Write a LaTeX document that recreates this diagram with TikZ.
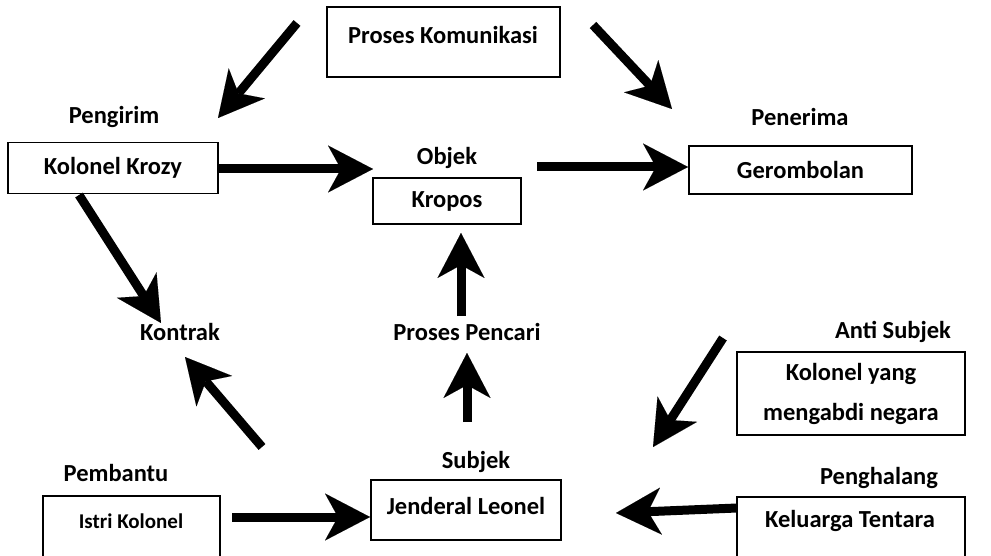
\documentclass[tikz,border=0pt]{standalone}
\usepackage{fontspec}
\setmainfont{Carlito}
\usetikzlibrary{arrows.meta}
\begin{document}
\begin{tikzpicture}[x=1pt,y=-1pt,
  txt/.style={inner sep=0pt, font=\bfseries\fontsize{24.5}{40}\selectfont, align=center},
  smalltxt/.style={inner sep=0pt, font=\bfseries\fontsize{21}{26}\selectfont},
  box/.style={draw, line width=1.6pt, inner sep=0pt},
  big/.style={line width=9pt, -{Stealth[length=45pt,width=47pt,inset=13pt,line width=0.01pt]}}]
\clip (0,0) rectangle (991,556);
\fill[white] (0,0) rectangle (991,556);
% boxes
\node[box, minimum width=233pt, minimum height=70pt] (pk) at (443.5,42) {};
\node[txt] (pkt) at (443,35) {Proses Komunikasi};
\node[box, txt, minimum width=210pt, minimum height=51pt] (kk) at (113,168) {Kolonel Krozy};
\node[box, txt, minimum width=148pt, minimum height=46pt] (kr) at (447,201) {Kropos};
\node[box, txt, minimum width=223pt, minimum height=48pt] (ge) at (800.5,170) {Gerombolan};
\node[box, txt, minimum width=228pt, minimum height=83pt] (ks) at (851,393.5) {Kolonel yang\\mengabdi negara};
\node[box, minimum width=190pt, minimum height=60pt] (jl) at (466,510) {};
\node[txt] (jlt) at (466,506) {Jenderal Leonel};
\node[box, minimum width=177pt, minimum height=80pt] (ik) at (131.5,536) {};
\node[smalltxt] (ikt) at (131,521) {Istri Kolonel};
\node[box, minimum width=228pt, minimum height=80pt] (kt) at (851,537) {};
\node[txt] (ktt) at (850,521) {Keluarga Tentara};
% labels
\node[txt] (pengirim) at (114,117) {Pengirim};
\node[txt] (penerima) at (800,117) {Penerima};
\node[txt] (objek) at (447,158) {Objek};
\node[txt] (kontrak) at (180,332) {Kontrak};
\node[txt] (pencari) at (467,332) {Proses Pencari};
\node[txt] (anti) at (893,332) {Anti Subjek};
\node[txt] (subjek) at (476,462) {Subjek};
\node[txt] (pembantu) at (116,473) {Pembantu};
\node[txt] (penghalang) at (879,478) {Penghalang};
% arrow end points
\coordinate (a1s) at (297,23);  \coordinate (a1e) at (218,118);
\coordinate (a2s) at (593,25);  \coordinate (a2e) at (672,109);
\coordinate (a3s) at (219,169); \coordinate (a3e) at (373,169);
\coordinate (a4s) at (537,167); \coordinate (a4e) at (688,167);
\coordinate (a5s) at (79,195);  \coordinate (a5e) at (161,323);
\coordinate (a6s) at (461,316); \coordinate (a6e) at (461,233);
\coordinate (a7s) at (467,422); \coordinate (a7e) at (467,353);
\coordinate (a8s) at (262,447); \coordinate (a8e) at (185,357);
\coordinate (a9s) at (232,517); \coordinate (a9e) at (370,517);
\coordinate (a10s) at (737,508); \coordinate (a10e) at (616,513);
\coordinate (a11s) at (723,338); \coordinate (a11e) at (653,447);
% arrows
\draw[big] (a1s) -- (a1e);
\draw[big] (a2s) -- (a2e);
\draw[big] (a3s) -- (a3e);
\draw[big] (a4s) -- (a4e);
\draw[big] (a5s) -- (a5e);
\draw[big] (a6s) -- (a6e);
\draw[big] (a7s) -- (a7e);
\draw[big] (a8s) -- (a8e);
\draw[big] (a9s) -- (a9e);
\draw[big] (a10s) -- (a10e);
\draw[big] (a11s) -- (a11e);
\end{tikzpicture}
\end{document}
